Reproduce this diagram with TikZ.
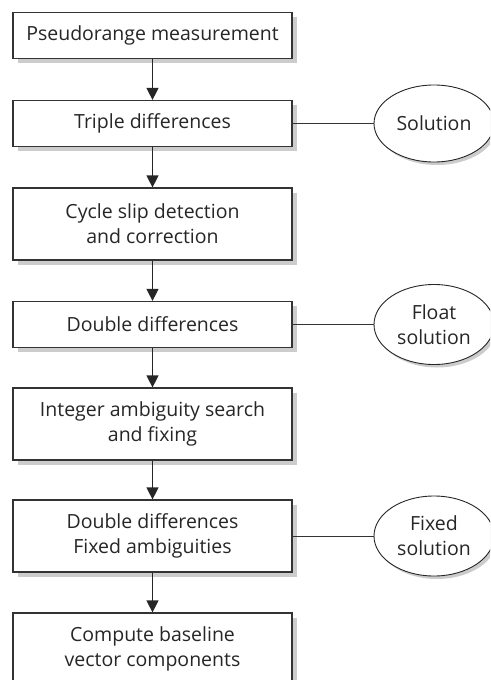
\documentclass[tikz,border=0pt]{standalone}
\usepackage{fontspec}
\setmainfont{Open Sans}
\usetikzlibrary{arrows.meta,shadows,shapes.geometric}
\begin{document}
\begin{tikzpicture}[x=1pt,y=-1pt,
  every node/.style={font=\fontsize{19.5}{25}\selectfont, text=black!85},
  stepbox/.style={draw=black!80, line width=1.2pt, fill=white, minimum width=279pt, inner sep=0pt, align=center,
    drop shadow={shadow xshift=4.5pt, shadow yshift=-4.5pt, fill=black!20, opacity=1}},
  onebox/.style={stepbox, minimum height=46pt},
  twobox/.style={stepbox, minimum height=72pt},
  result/.style={ellipse, draw=black!85, line width=0.9pt, fill=white, minimum width=120pt, minimum height=77pt, inner sep=0pt, align=center,
    drop shadow={shadow xshift=3pt, shadow yshift=-3pt, fill=black!20, opacity=1}},
  flow/.style={line width=1.2pt, draw=black!85, -{Triangle[width=12pt,length=12pt]}},
  link/.style={line width=0.9pt, draw=black!80}]
\useasboundingbox (0,0) rectangle (490,680);
\clip (0,0) rectangle (490,680);
\node[onebox] (b1) at (152.5,35.5) {Pseudorange measurement};
\node[onebox] (b2) at (152.5,123.5) {Triple differences};
\node[twobox] (b3) at (152.5,224) {Cycle slip detection\\and correction};
\node[onebox] (b4) at (152.5,324.5) {Double differences};
\node[twobox] (b5) at (152.5,424) {Integer ambiguity search\\and fixing};
\node[twobox] (b6) at (152.5,536) {Double differences\\Fixed ambiguities};
\node[twobox] (b7) at (152.5,649) {Compute baseline\\vector components};
\node[result] (e1) at (434,123.5) {Solution};
\node[result, minimum height=80pt] (e2) at (434,324.5) {Float\\solution};
\node[result, minimum height=80pt] (e3) at (434,536) {Fixed\\solution};
\draw[flow] (b1) -- (b2);
\draw[flow] (b2) -- (b3);
\draw[flow] (b3) -- (b4);
\draw[flow] (b4) -- (b5);
\draw[flow] (b5) -- (b6);
\draw[flow] (b6) -- (b7);
\draw[link] (b2) -- (e1);
\draw[link] (b4) -- (e2);
\draw[link] (b6) -- (e3);
\end{tikzpicture}
\end{document}
